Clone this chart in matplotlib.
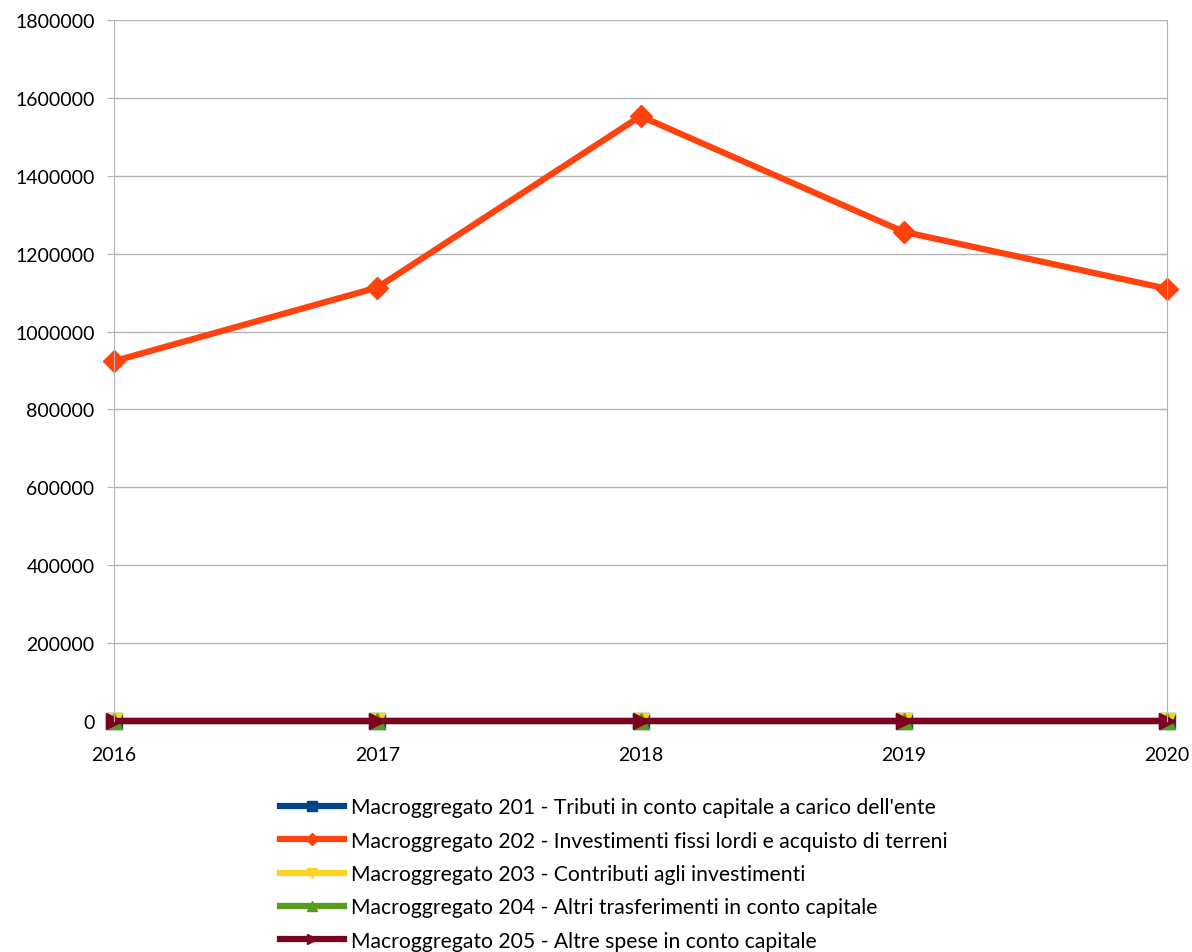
import numpy as np
import matplotlib.pyplot as plt
from matplotlib.ticker import FuncFormatter

plt.rcParams['font.family'] = ['Lato', 'DejaVu Sans']

years = [2016, 2017, 2018, 2019, 2020]
labels = ["Macroggregato 201 - Tributi in conto capitale a carico dell'ente",
          "Macroggregato 202 - Investimenti fissi lordi e acquisto di terreni",
          "Macroggregato 203 - Contributi agli investimenti",
          "Macroggregato 204 - Altri trasferimenti in conto capitale",
          "Macroggregato 205 - Altre spese in conto capitale"]
m201 = [0, 0, 0, 0, 0]
m202 = [924000, 1113000, 1553000, 1256000, 1110000]
m203 = [0, 0, 0, 0, 0]
m204 = [0, 0, 0, 0, 0]
m205 = [0, 0, 0, 0, 0]

series = [m201, m202, m203, m204, m205]
colors = ['#004586', '#ff420e', '#ffd320', '#579d1c', '#7e0021']
markers = ['s', 'D', 'v', '^', '>']

fig = plt.figure(figsize=(11.92, 9.53), dpi=100)
ax = fig.add_axes([114/1192, 1-722/953, (1167-114)/1192, (722-21)/953])

for vals, c, m, lab in zip(series, colors, markers, labels):
    ax.plot(years, vals, color=c, marker=m, lw=4.5, ms=11, label=lab, clip_on=False)

ax.set_xlim(2016, 2020)
ax.set_ylim(0, 1800000)
ax.set_yticks(np.arange(0, 1800001, 200000))
ax.yaxis.set_major_formatter(FuncFormatter(lambda v, p: '%d' % v))
ax.set_xticks(years)
ax.yaxis.grid(True, color='#b3b3b3', lw=1)
ax.set_axisbelow(True)
for s in ['top', 'bottom']:
    ax.spines[s].set_visible(False)
for s in ['left', 'right']:
    ax.spines[s].set_color('#b3b3b3')
ax.tick_params(axis='y', colors='#b3b3b3', labelcolor='black', labelsize=14, length=5, pad=9)
ax.tick_params(axis='x', length=0, labelsize=14, pad=18)

fig.legend(loc='upper left', bbox_to_anchor=(272/1192, 1-790/953), frameon=False,
           fontsize=15.2, handlelength=3.0, labelspacing=0.63, handletextpad=0.35,
           markerscale=0.6, borderaxespad=0)

fig.savefig('out.png', dpi=100)
